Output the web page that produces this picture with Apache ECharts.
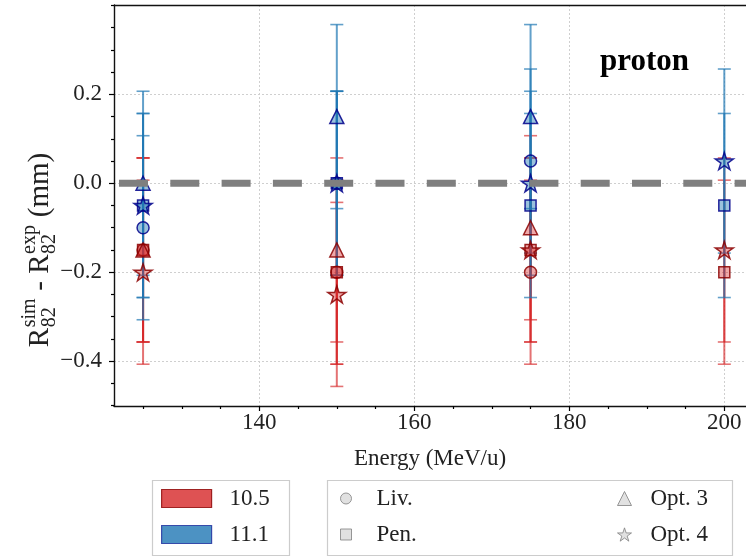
<!DOCTYPE html>
<html><head><meta charset="utf-8">
<script src="https://cdn.jsdelivr.net/npm/echarts@6/dist/echarts.min.js"></script>
<style>html,body{margin:0;padding:0;background:#fff}#c{width:746px;height:556px}</style>
</head><body><div id="c"></div>
<script>
// ---- data ----
const energies = [125, 150, 175, 200];
const liv105  = [-0.15, -0.20, -0.20, null];
const pen105  = [-0.15, -0.20, -0.15, -0.20];
const opt3105 = [-0.15, -0.15, -0.10, null];
const opt4105 = [-0.20, -0.25, -0.15, -0.15];
const liv111  = [-0.10, 0.00, 0.05, null];
const pen111  = [-0.05, 0.00, -0.05, -0.05];
const opt3111 = [0.00, 0.15, 0.15, null];
const opt4111 = [-0.05, 0.00, 0.00, 0.05];
const errHalf = [0.207, 0.207, 0.207, 0.207];
const xTicks = [140, 160, 180, 200];
const xMinor = [125, 130, 135, 145, 150, 155, 165, 170, 175, 185, 190, 195];
const yTicks = [-0.4, -0.2, 0.0, 0.2];
const yMinor = [-0.5, -0.45, -0.35, -0.3, -0.25, -0.15, -0.1, -0.05, 0.05, 0.1, 0.15, 0.25, 0.3, 0.35, 0.4];
const versionNames = ['10.5', '11.1'];
const modelNames = ['Liv.', 'Pen.', 'Opt. 3', 'Opt. 4'];
const panelLabel = 'proton';

// ---- styling ----
const SERIF = '"Liberation Serif", "DejaVu Serif", serif';
const STAR = 'path://M0,-10 L2.245,-3.09 L9.511,-3.09 L3.633,1.18 L5.878,8.09 L0,3.82 L-5.878,8.09 L-3.633,1.18 L-9.511,-3.09 L-2.245,-3.09 Z';
const RED = {bar: 'rgba(214,39,40,0.65)', fill: 'rgba(214,39,40,0.4)', edge: 'rgba(139,0,0,0.85)'};
const BLUE = {bar: 'rgba(31,119,180,0.7)', fill: 'rgba(31,119,180,0.45)', edge: 'rgba(0,0,139,0.85)'};
const shapes = {
  'Liv.': {symbol: 'circle', size: 12},
  'Pen.': {symbol: 'rect', size: 11},
  'Opt. 3': {symbol: 'triangle', size: 14},
  'Opt. 4': {symbol: STAR, size: 18}
};
const PXPERX = 7.75;
const GRID_L = 114, GRID_W = 746 - 114;
const XMIN = 121.25, XMAX = XMIN + GRID_W / PXPERX, YMIN = -0.501, YMAX = 0.401;

function pts(vals) {
  const out = [];
  energies.forEach((e, i) => { if (vals[i] !== null) out.push([e, vals[i], errHalf[i]]); });
  return out;
}
function errSeries(vals, col, z) {
  return {
    type: 'custom', silent: true, z: z, clip: false,
    data: pts(vals),
    encode: {x: 0, y: 1},
    renderItem: function (params, api) {
      const x = api.value(0), y = api.value(1), e = api.value(2);
      const t = api.coord([x, y + e]), b = api.coord([x, y - e]);
      const cw = 6.5;
      return {type: 'group', children: [
        {type: 'line', shape: {x1: t[0], y1: t[1], x2: b[0], y2: b[1]}, style: {stroke: col, lineWidth: 2}},
        {type: 'line', shape: {x1: t[0] - cw, y1: t[1], x2: t[0] + cw, y2: t[1]}, style: {stroke: col, lineWidth: 1.6}},
        {type: 'line', shape: {x1: b[0] - cw, y1: b[1], x2: b[0] + cw, y2: b[1]}, style: {stroke: col, lineWidth: 1.6}}
      ]};
    }
  };
}
function markSeries(vals, model, c, z) {
  return {
    type: 'scatter', silent: true, z: z,
    symbol: shapes[model].symbol, symbolSize: shapes[model].size, symbolKeepAspect: true,
    data: pts(vals).map(p => [p[0], p[1]]),
    itemStyle: {color: c.fill, borderColor: c.edge, borderWidth: 1.5, opacity: 1}
  };
}

const redSets = [[liv105, 'Liv.'], [pen105, 'Pen.'], [opt3105, 'Opt. 3'], [opt4105, 'Opt. 4']];
const blueSets = [[liv111, 'Liv.'], [pen111, 'Pen.'], [opt3111, 'Opt. 3'], [opt4111, 'Opt. 4']];
const series = [];
redSets.forEach(s => series.push(errSeries(s[0], RED.bar, 3)));
blueSets.forEach(s => series.push(errSeries(s[0], BLUE.bar, 4)));
redSets.forEach(s => series.push(markSeries(s[0], s[1], RED, 5)));
blueSets.forEach(s => series.push(markSeries(s[0], s[1], BLUE, 6)));
// zero reference line
series.push({
  type: 'line', silent: true, z: 8, symbol: 'none',
  data: [[XMIN, 0], [XMAX, 0]],
  lineStyle: {color: '#7f7f7f', width: 7, type: [29, 22.3], dashOffset: 46.3, cap: 'butt'}
});
// legend-only series
versionNames.concat(modelNames).forEach(n => series.push({type: 'scatter', name: n, data: []}));

// ---- y axis title (sub/superscripts) ----
const mctx = document.createElement('canvas').getContext('2d');
function tw(t, size) { mctx.font = size + 'px ' + SERIF; return mctx.measureText(t).width; }
const MAIN = 29, SMALL = 20;
const pieces = [
  {t: 'R'}, {sup: 'sim', sub: '82'}, {t: ' - R'}, {sup: 'exp', sub: '82'}, {t: ' (mm)'}
];
let total = 0;
pieces.forEach(p => { p.w = p.t ? tw(p.t, MAIN) : Math.max(tw(p.sup, SMALL), tw(p.sub, SMALL)) + 1; total += p.w; });
const titleChildren = [];
let cx = -total / 2;
pieces.forEach(p => {
  if (p.t) {
    titleChildren.push({type: 'text', x: cx, y: -9, style: {text: p.t, font: MAIN + 'px ' + SERIF, fill: '#222', align: 'left', verticalAlign: 'middle'}});
  } else {
    titleChildren.push({type: 'text', x: cx + 0.5, y: -19, style: {text: p.sup, font: SMALL + 'px ' + SERIF, fill: '#222', align: 'left', verticalAlign: 'middle'}});
    titleChildren.push({type: 'text', x: cx + 0.5, y: 1, style: {text: p.sub, font: SMALL + 'px ' + SERIF, fill: '#222', align: 'left', verticalAlign: 'middle'}});
  }
  cx += p.w;
});

const fmtY = v => (v < 0 ? '\u2212' + Math.abs(v).toFixed(1) : v.toFixed(1));
const tickStyle = {color: '#000', width: 1.2};
const spine = {show: true, onZero: false, lineStyle: {color: '#111', width: 1.4}};
const noLine = {show: false, onZero: false};
const grey = {color: '#d9d9d9', borderColor: '#7f7f7f', borderWidth: 1};

const option = {
  animation: false,
  backgroundColor: '#fff',
  grid: {left: GRID_L, top: 5, width: GRID_W, height: 401, show: false},
  xAxis: [{
    type: 'value', min: XMIN, max: XMAX, position: 'bottom',
    axisLine: spine,
    axisTick: {show: true, customValues: xTicks, length: 5, lineStyle: tickStyle},
    axisLabel: {customValues: xTicks, fontFamily: SERIF, fontSize: 23, color: '#222', margin: 5},
    splitLine: {show: true, lineStyle: {color: '#cfcfcf', width: 1, type: [2, 2]}},
    name: 'Energy (MeV/u)', nameLocation: 'middle', nameGap: 41,
    nameTextStyle: {fontFamily: SERIF, fontSize: 23, color: '#222'}
  }, {
    type: 'value', min: XMIN, max: XMAX, position: 'bottom', offset: 0,
    axisLine: noLine,
    axisTick: {show: true, customValues: xMinor, length: 3, lineStyle: tickStyle},
    axisLabel: {show: false}, splitLine: {show: false}
  }, {
    type: 'value', min: XMIN, max: XMAX, position: 'top', offset: 0,
    axisLine: spine, axisTick: {show: false}, axisLabel: {show: false}, splitLine: {show: false}
  }],
  yAxis: [{
    type: 'value', min: YMIN, max: YMAX, position: 'left',
    axisLine: spine,
    axisTick: {show: true, customValues: yTicks, length: 5, lineStyle: tickStyle},
    axisLabel: {customValues: yTicks, formatter: fmtY, fontFamily: SERIF, fontSize: 23, color: '#222', margin: 12},
    splitLine: {show: true, lineStyle: {color: '#cfcfcf', width: 1, type: [2, 2]}}
  }, {
    type: 'value', min: YMIN, max: YMAX, position: 'left', offset: 0,
    axisLine: noLine,
    axisTick: {show: true, customValues: yMinor, length: 3, lineStyle: tickStyle},
    axisLabel: {show: false}, splitLine: {show: false}
  }],
  legend: [{
    orient: 'vertical', left: 161, top: 487, padding: 0, itemGap: 13, itemWidth: 50, itemHeight: 18,
    selectedMode: false,
    textStyle: {fontFamily: SERIF, fontSize: 23, color: '#222', padding: [0, 0, 0, 13]},
    data: [
      {name: versionNames[0], icon: 'rect', itemStyle: {color: '#d62728', borderColor: '#8b0000', borderWidth: 1.2}},
      {name: versionNames[1], icon: 'rect', itemStyle: {color: '#1f77b4', borderColor: '#1a2a9c', borderWidth: 1.2}}
    ]
  }, {
    orient: 'vertical', left: 340, top: 487, padding: 0, itemGap: 13, itemWidth: 11, itemHeight: 11,
    selectedMode: false,
    textStyle: {fontFamily: SERIF, fontSize: 23, color: '#222', padding: [0, 0, 0, 20]},
    data: [
      {name: modelNames[0], icon: 'circle', itemStyle: grey},
      {name: modelNames[1], icon: 'rect', itemStyle: grey}
    ]
  }, {
    orient: 'vertical', left: 617, top: 487, padding: 0, itemGap: 13, itemWidth: 14, itemHeight: 14,
    selectedMode: false,
    textStyle: {fontFamily: SERIF, fontSize: 23, color: '#222', padding: [0, 0, 0, 14]},
    data: [
      {name: modelNames[2], icon: 'triangle', itemStyle: grey},
      {name: modelNames[3], icon: STAR, itemStyle: grey}
    ]
  }],
  graphic: [
    {type: 'rect', left: 150, top: 478, shape: {width: 137, height: 75}, style: {fill: 'none', stroke: '#cccccc', lineWidth: 1.2}, z: 1},
    {type: 'rect', left: 325, top: 478, shape: {width: 405, height: 75}, style: {fill: 'none', stroke: '#cccccc', lineWidth: 1.2}, z: 1},
    {type: 'text', x: 600, y: 62, style: {text: panelLabel, font: 'bold 31px ' + SERIF, fill: '#000', align: 'left', verticalAlign: 'middle'}, z: 10},
    {type: 'group', x: 49, y: 250, rotation: Math.PI / 2, children: titleChildren}
  ],
  series: series
};
const chart = echarts.init(document.getElementById('c'), null, {renderer: 'canvas'});
chart.setOption(option);
</script></body></html>
